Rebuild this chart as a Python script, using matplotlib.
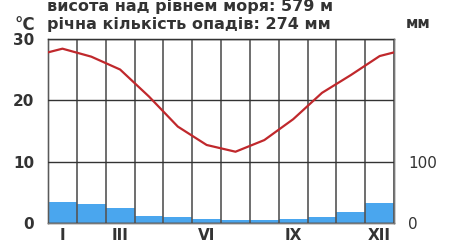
import matplotlib
matplotlib.use("Agg")
import matplotlib.pyplot as plt

# monthly climate values
months = list(range(1, 13))
temp_c = [28.4, 27.1, 25.0, 20.6, 15.7, 12.7, 11.6, 13.5, 16.9, 21.2, 24.1, 27.2]
precip_mm = [34, 30, 24, 12, 9, 6, 4, 5, 7, 10, 17, 32]

tick_months = [1, 3, 6, 9, 12]
tick_labels = ["I", "III", "VI", "IX", "XII"]
title_lines = ["висота над рівнем моря: 579 м", "річна кількість опадів: 274 мм"]

txt = "#333333"
plt.rcParams["font.family"] = "DejaVu Sans"

fig = plt.figure(figsize=(4.53, 2.46), dpi=100)
axp = fig.add_axes([0.106, 0.094, 0.764, 0.748])
axt = axp.twinx()

# precipitation bars (mm scale, right side)
axp.bar(months, precip_mm, width=1.0, color="#4aa6ee", edgecolor="none", zorder=1)
axp.set_ylim(0, 300)
axp.set_yticks([0, 100])
axp.yaxis.tick_right()
axp.set_xlim(0.5, 12.5)
axp.tick_params(axis="x", labelbottom=False)

# temperature (°C scale, left side), wrapped at the year ends
axt.xaxis.set_visible(True)
axt.yaxis.tick_left()
axt.set_ylim(0, 30)
axt.set_yticks([0, 10, 20, 30])
xs = [0] + months + [13]
ys = [temp_c[-1]] + temp_c + [temp_c[0]]
axt.plot(xs, ys, color="#c0282c", lw=1.6, zorder=3)
axt.set_xlim(0.5, 12.5)

axt.set_xticks(tick_months)
axt.set_xticklabels(tick_labels)
axt.set_xticks([m + 0.5 for m in range(0, 13)], minor=True)
axt.grid(axis="x", which="minor", color="#555555", lw=1.2)
axt.grid(axis="y", which="major", color="#333333", lw=1.0)
axt.set_axisbelow(False)
axt.patch.set_visible(False)

for ax in (axp, axt):
    ax.tick_params(axis="both", which="both", length=0, labelcolor=txt)
    for s in ax.spines.values():
        s.set_color("#777777")
        s.set_linewidth(1.0)

for lab in axt.get_yticklabels():
    lab.set_fontsize(11)
    lab.set_fontweight("bold")
axt.tick_params(axis="y", pad=10)
for lab in axp.get_yticklabels():
    lab.set_fontsize(11)
axp.tick_params(axis="y", pad=10)
for lab in axt.get_xticklabels():
    lab.set_fontsize(11)
    lab.set_fontweight("bold")
axt.tick_params(axis="x", which="both", pad=4, labelbottom=True)

fig.text(47 / 453, 1 - 11 / 246, title_lines[0], fontsize=11.5, fontweight="bold", color=txt, ha="left", va="baseline")
fig.text(47 / 453, 1 - 29 / 246, title_lines[1], fontsize=11.5, fontweight="bold", color=txt, ha="left", va="baseline")
fig.text(14 / 453, 1 - 30 / 246, "°C", fontsize=12, fontweight="bold", color=txt, ha="left", va="baseline")
fig.text(406 / 453, 1 - 28 / 246, "мм", fontsize=11, fontweight="bold", color=txt, ha="left", va="baseline")

fig.savefig("out.png", dpi=100, facecolor="white")
